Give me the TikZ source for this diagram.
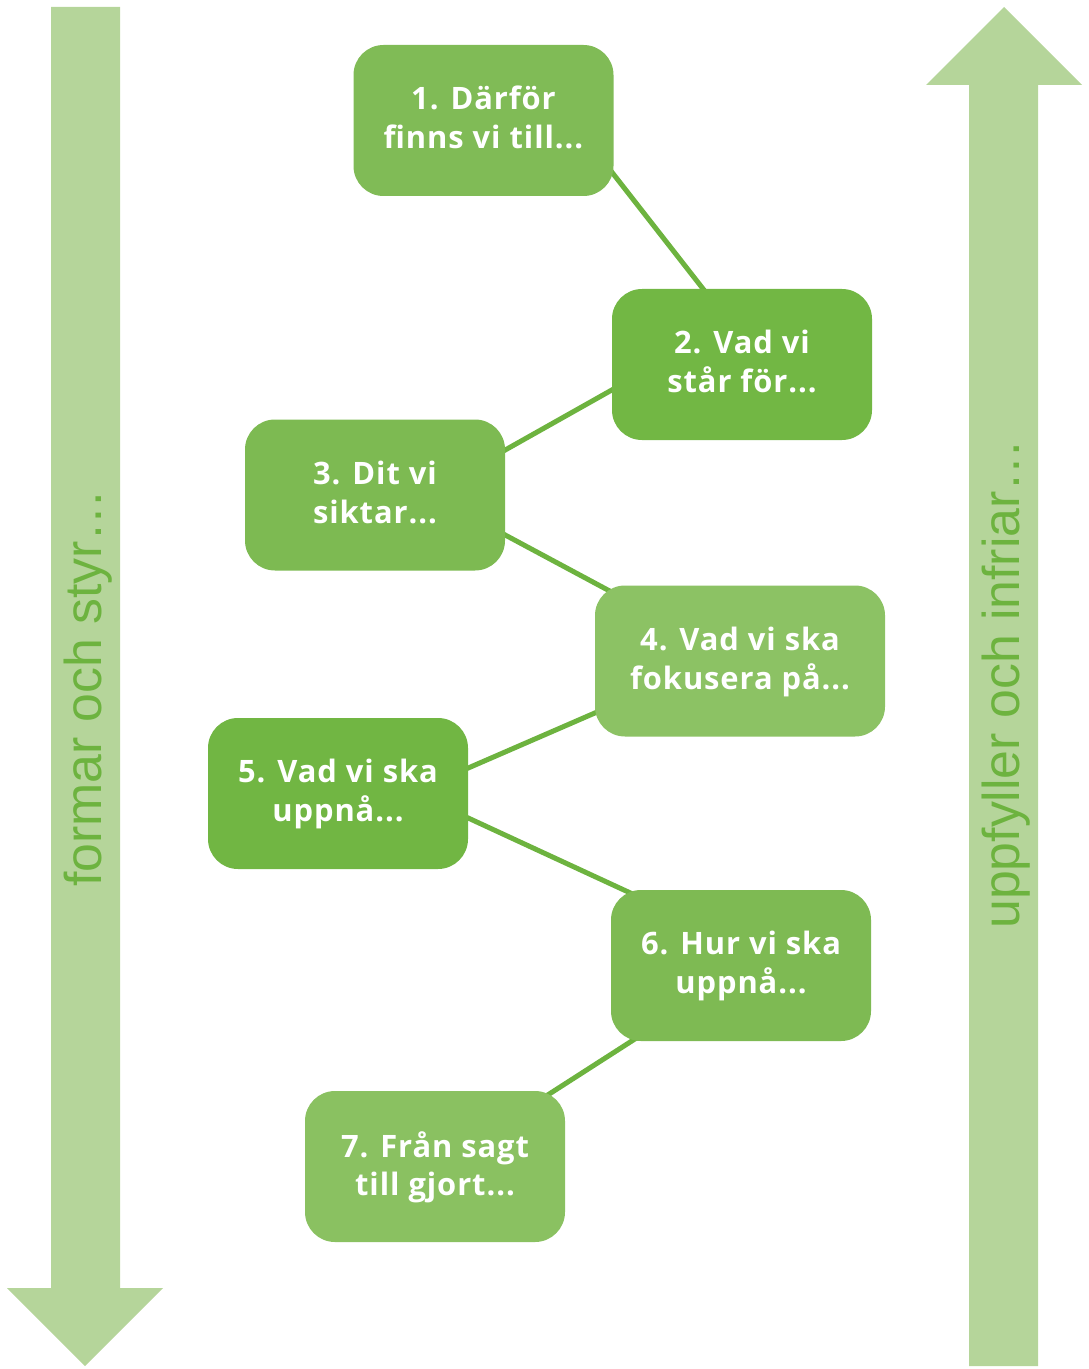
\documentclass[tikz,border=0pt]{standalone}
\usepackage{fontspec}
\setmainfont{Open Sans}[LetterSpace=3]
\setsansfont{Liberation Sans}
\usetikzlibrary{calc, positioning, backgrounds}
\definecolor{arrowgreen}{HTML}{B5D59A}
\definecolor{linegreen}{HTML}{6DB33F}
\definecolor{boxA}{HTML}{80BB56}
\definecolor{boxB}{HTML}{72B744}
\definecolor{boxC}{HTML}{7DBA52}
\definecolor{boxD}{HTML}{8CC264}
\definecolor{boxE}{HTML}{71B643}
\definecolor{boxF}{HTML}{7EBA53}
\definecolor{boxG}{HTML}{8AC161}
\tikzset{
  stepbox/.style={rounded corners=30bp, minimum width=260bp, minimum height=151bp,
    inner sep=0pt, text=white, align=center, text depth=6bp,
    font=\bfseries\fontsize{31}{39}\selectfont},
  link/.style={line width=5bp, linegreen, shorten <=-20bp, shorten >=-20bp},
  sidetext/.style={rotate=90, anchor=base, text=linegreen, inner sep=0pt,
    font=\sffamily\fontsize{52}{52}\selectfont}
}
\begin{document}
\begin{tikzpicture}[x=1bp, y=-1bp]
    \useasboundingbox (0,0) rectangle (1088,1369);

    % Pfeil links (nach unten)
    \fill[arrowgreen] (51,7) -- (120,7) -- (120,1288) -- (163,1288) -- (85,1366)
        -- (7,1288) -- (51,1288) -- cycle;
    \node[sidetext] (formar) at (101,688) {formar och styr…};

    % Pfeil rechts (nach oben)
    \fill[arrowgreen] (969,1366) -- (1038,1366) -- (1038,85) -- (1082,85) -- (1004,7)
        -- (926,85) -- (969,85) -- cycle;
    \node[sidetext] (uppfyller) at (1019,684) {uppfyller och infriar…};

    % Schritte
    \node[stepbox, fill=boxA] (s1) at (483.5,120.5) {1. Därför\\finns vi till...};
    \node[stepbox, fill=boxB] (s2) at (742,364.5) {2. Vad vi\\står för...};
    \node[stepbox, fill=boxC] (s3) at (375,495) {3. Dit vi\\siktar...};
    \node[stepbox, fill=boxD, minimum width=290bp] (s4) at (740,661) {4. Vad vi ska\\fokusera på...};
    \node[stepbox, fill=boxE] (s5) at (338,793.5) {5. Vad vi ska\\uppnå...};
    \node[stepbox, fill=boxF] (s6) at (741,965.5) {6. Hur vi ska\\uppnå...};
    \node[stepbox, fill=boxG] (s7) at (435,1166.5) {7. Från sagt\\till gjort...};

    % Verbindungen
    \begin{scope}[on background layer]
        \draw[link] ($(s1.east)+(0,54)$) -- ($(s2.north)+(-39,0)$);
        \draw[link] ($(s2.west)+(0,25.5)$) -- ($(s3.east)+(0,-45)$);
        \draw[link] ($(s3.east)+(0,40)$) -- ($(s4.west)+(13,-71)$);
        \draw[link] ($(s4.west)+(0,52)$) -- ($(s5.east)+(0,-25.5)$);
        \draw[link] ($(s5.east)+(0,24.5)$) -- ($(s6.north)+(-111,3)$);
        \draw[link] ($(s6.south)+(-108,-1)$) -- ($(s7.north)+(113,4)$);
    \end{scope}
\end{tikzpicture}
\end{document}
